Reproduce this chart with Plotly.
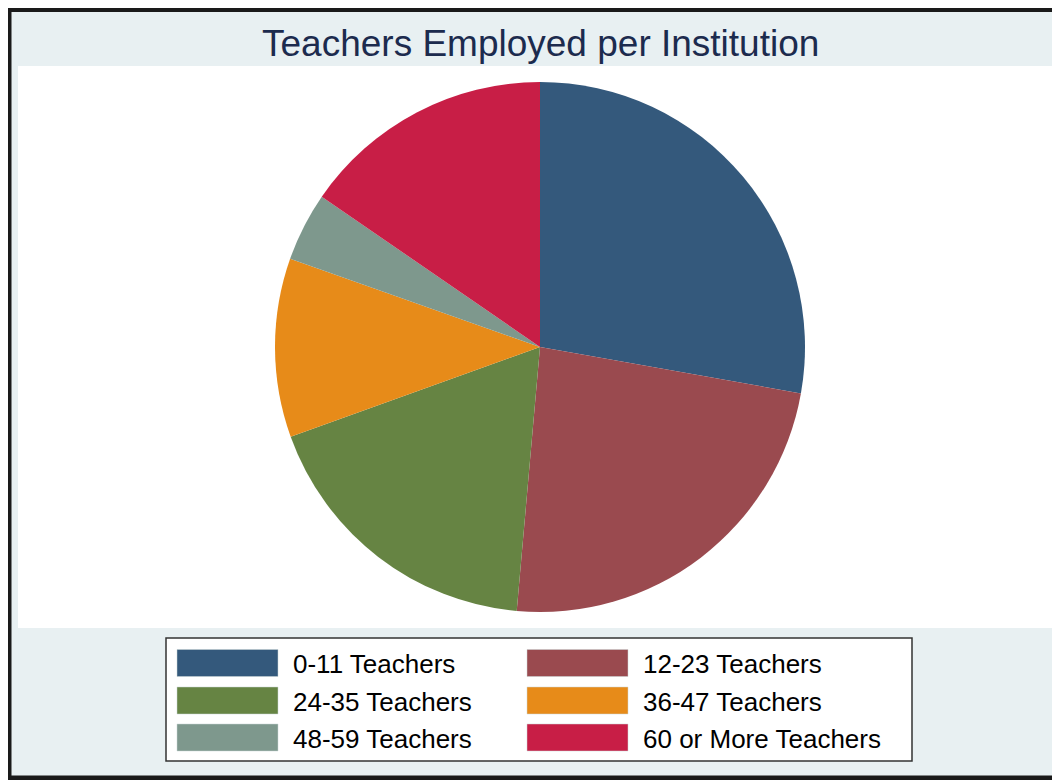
import plotly.graph_objects as go

categories = ["0-11 Teachers", "12-23 Teachers", "24-35 Teachers",
              "36-47 Teachers", "48-59 Teachers", "60 or More Teachers"]
shares = [27.8, 23.6, 18.1, 10.9, 4.2, 15.4]
colors = ["#34597C", "#9A4A4F", "#668443", "#E78B19", "#7E988D", "#C81E46"]
title_text = "Teachers Employed per Institution"

# page offset (body margin of the html page)
OX, OY = 8, 8
W, H = 1052, 772


def px(x):
    return (x - OX) / W


def py(y):
    return 1 - (y - OY) / H


fig = go.Figure()
fig.add_trace(go.Pie(
    labels=categories, values=shares, sort=False, direction="clockwise",
    rotation=0, textinfo="none", showlegend=False,
    marker=dict(colors=colors, line=dict(width=0)),
    domain=dict(x=[px(275), px(805)], y=[py(612), py(82)]),
))

shapes = [
    dict(type="rect", xref="paper", yref="paper", x0=px(9), x1=px(1075),
         y0=py(778), y1=py(9.5), fillcolor="#E8F0F2",
         line=dict(color="#1a1a1a", width=5), layer="below"),
    dict(type="rect", xref="paper", yref="paper", x0=px(18), x1=px(1075),
         y0=py(628), y1=py(66), fillcolor="white", line=dict(width=0),
         layer="below"),
    dict(type="rect", xref="paper", yref="paper", x0=px(166), x1=px(912),
         y0=py(761), y1=py(638), fillcolor="white",
         line=dict(color="#333333", width=1.5), layer="below"),
]
annotations = [
    dict(text=title_text, xref="paper", yref="paper", x=px(540), y=py(43),
         xanchor="center", yanchor="middle", showarrow=False,
         font=dict(family="Liberation Sans, Arial", size=37, color="#1C2B4E")),
]

row_y = [663, 700.5, 737.5]
col_x = [177, 527]
for i, (cat, col) in enumerate(zip(categories, colors)):
    r, c = divmod(i, 2)
    x0 = col_x[c]
    yc = row_y[r]
    shapes.append(dict(type="rect", xref="paper", yref="paper",
                       x0=px(x0), x1=px(x0 + 101), y0=py(yc + 13.5), y1=py(yc - 13.5),
                       fillcolor=col, line=dict(color="#c8d4d4", width=0.5),
                       layer="below"))
    annotations.append(dict(text=cat, xref="paper", yref="paper",
                            x=px(x0 + 114), y=py(yc + 1), xanchor="left",
                            yanchor="middle", showarrow=False,
                            font=dict(family="Liberation Sans, Arial", size=26,
                                      color="black")))

fig.update_layout(
    width=W, height=H, margin=dict(l=0, r=0, t=0, b=0),
    paper_bgcolor="white", plot_bgcolor="white",
    shapes=shapes, annotations=annotations,
)

fig.write_html("out.html")
